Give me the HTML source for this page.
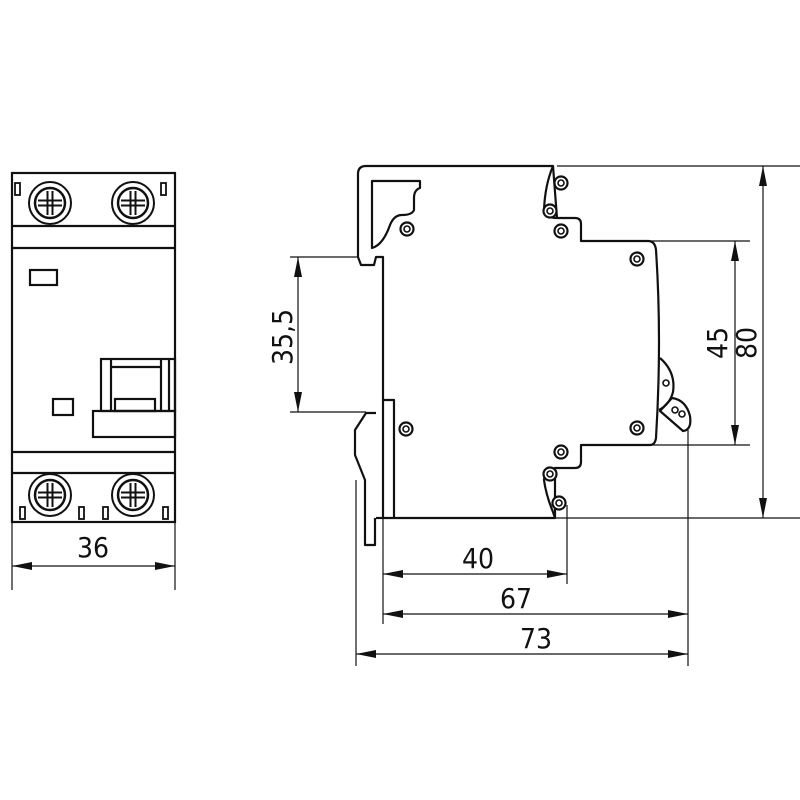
<!DOCTYPE html>
<html><head><meta charset="utf-8"><style>
html,body{margin:0;padding:0;background:#fff;width:800px;height:800px;overflow:hidden}
text{font-family:"DejaVu Sans Condensed","Liberation Sans",sans-serif;font-size:28px;fill:#111}
</style></head><body>
<svg width="800" height="800" viewBox="0 0 800 800" xmlns="http://www.w3.org/2000/svg">
<defs>
<marker id="a" viewBox="0 0 20 8" refX="20" refY="4" markerWidth="20" markerHeight="8" markerUnits="userSpaceOnUse" orient="auto-start-reverse"><path d="M0,0 L20,4 L0,8 Z" fill="#111"/></marker>
<g id="scr"><circle r="21" fill="#fff" stroke="#111" stroke-width="2"/><circle r="15" fill="none" stroke="#111" stroke-width="2.5"/><path d="M-12,-2.5H12M-12,2.5H12M-2.5,-12V12M2.5,-12V12" stroke="#111" stroke-width="2"/></g>
<g id="sm"><circle r="6.5" fill="#fff" stroke="#111" stroke-width="2.2"/><circle r="3" fill="none" stroke="#111" stroke-width="1.6"/></g>
</defs>
<g fill="none" stroke="#111" stroke-width="2.2">
<!-- front view -->
<rect x="12" y="173" width="163" height="349"/>
<line x1="12" y1="226" x2="175" y2="226"/><line x1="12" y1="248" x2="175" y2="248"/>
<line x1="12" y1="452" x2="175" y2="452"/><line x1="12" y1="473" x2="175" y2="473"/>
<rect x="30" y="270" width="27" height="15"/>
<rect x="53" y="399" width="20" height="16"/>
<rect x="101" y="359" width="74" height="52"/>
<line x1="111" y1="359" x2="111" y2="411"/><line x1="161" y1="359" x2="161" y2="411"/><line x1="169" y1="359" x2="169" y2="411"/>
<line x1="111" y1="367" x2="161" y2="367"/>
<rect x="115" y="399" width="40" height="12"/>
<rect x="93" y="411" width="82" height="26"/>
<rect x="15" y="183" width="5" height="12" stroke-width="1.8"/><rect x="161" y="183" width="5" height="12" stroke-width="1.8"/>
<rect x="20" y="507" width="5" height="12" stroke-width="1.8"/><rect x="79" y="507" width="5" height="12" stroke-width="1.8"/>
<rect x="103" y="507" width="5" height="12" stroke-width="1.8"/><rect x="163" y="507" width="5" height="12" stroke-width="1.8"/>
</g>
<use href="#scr" x="50" y="203"/><use href="#scr" x="133" y="203"/>
<use href="#scr" x="50" y="495"/><use href="#scr" x="133" y="495"/>
<g stroke="#111" stroke-width="1.2" fill="none">
<line x1="12" y1="522" x2="12" y2="590"/><line x1="175" y1="522" x2="175" y2="590"/>
<line x1="12" y1="566" x2="175" y2="566" marker-start="url(#a)" marker-end="url(#a)"/>
</g>
<text x="93" y="557" text-anchor="middle">36</text>

<!-- side view -->
<g fill="none" stroke="#111" stroke-width="2.2" stroke-linejoin="round">
<path d="M383,257 L383,518 L555,518 L555,468 L575,468 Q581,468 581,462 L581,445 L650,445 Q655,445 656,438 Q662,340 656,250 Q655,241 648,241 L581,241 L581,224 Q581,218 575,218 L557,218 L553,166 L366,166 Q358,166 358,174 L358,257 L361,265 L374,265 L376,257 Z"/>
<path d="M372,181 L420,181 L420,188 Q414,190 414,198 L414,210 Q412,215 402,215 Q394,215 390,225 Q383,245 372,248 Z"/>
<path d="M383,400 L394,400 L394,518"/>
<path d="M376,413 L366,413 L355,430 L355,455 L365,480 L365,545 L375,545 L375,518"/>
<path d="M376,518 L383,518"/>
<path d="M553,166 Q545,185 544,210 Q546,218 557,218"/>
<path d="M556,468 Q545,470 544,480 Q546,495 553,512 L555,518"/>
<path d="M660,358 Q676,372 673,392 Q670,404 659,410"/>
<path d="M660,411 L683,431 Q692,430 690,416 Q686,400 672,398 Z"/>
</g>
<g stroke="#111" stroke-width="1.6" fill="#fff">
<circle cx="666" cy="383" r="3"/><circle cx="675" cy="410" r="3"/><circle cx="682" cy="414" r="3"/>
</g>
<use href="#sm" x="407" y="229"/><use href="#sm" x="561" y="231"/><use href="#sm" x="637" y="259"/>
<use href="#sm" x="406" y="429"/><use href="#sm" x="637" y="428"/><use href="#sm" x="561" y="452"/>
<use href="#sm" x="550" y="211"/><use href="#sm" x="561" y="183"/>
<use href="#sm" x="550" y="474"/><use href="#sm" x="559" y="503"/>

<!-- dimension lines -->
<g stroke="#111" stroke-width="1.2" fill="none">
<line x1="557" y1="166" x2="800" y2="166"/><line x1="581" y1="241" x2="750" y2="241"/>
<line x1="650" y1="445" x2="750" y2="445"/><line x1="555" y1="518" x2="800" y2="518"/>
<line x1="290" y1="257" x2="358" y2="257"/><line x1="290" y1="412" x2="366" y2="412"/>
<line x1="298" y1="257" x2="298" y2="412" marker-start="url(#a)" marker-end="url(#a)"/>
<line x1="735" y1="241" x2="735" y2="445" marker-start="url(#a)" marker-end="url(#a)"/>
<line x1="763" y1="166" x2="763" y2="518" marker-start="url(#a)" marker-end="url(#a)"/>
<line x1="383" y1="518" x2="383" y2="624"/><line x1="356" y1="480" x2="356" y2="666"/>
<line x1="567" y1="505" x2="567" y2="584"/><line x1="688" y1="430" x2="688" y2="666"/>
<line x1="383" y1="574" x2="567" y2="574" marker-start="url(#a)" marker-end="url(#a)"/>
<line x1="383" y1="614" x2="688" y2="614" marker-start="url(#a)" marker-end="url(#a)"/>
<line x1="356" y1="654" x2="688" y2="654" marker-start="url(#a)" marker-end="url(#a)"/>
</g>
<text x="478" y="568" text-anchor="middle">40</text>
<text x="516" y="608" text-anchor="middle">67</text>
<text x="536" y="648" text-anchor="middle">73</text>
<text transform="translate(292,337) rotate(-90)" text-anchor="middle">35,5</text>
<text transform="translate(727,343) rotate(-90)" text-anchor="middle">45</text>
<text transform="translate(756,343) rotate(-90)" text-anchor="middle">80</text>
</svg>
</body></html>
